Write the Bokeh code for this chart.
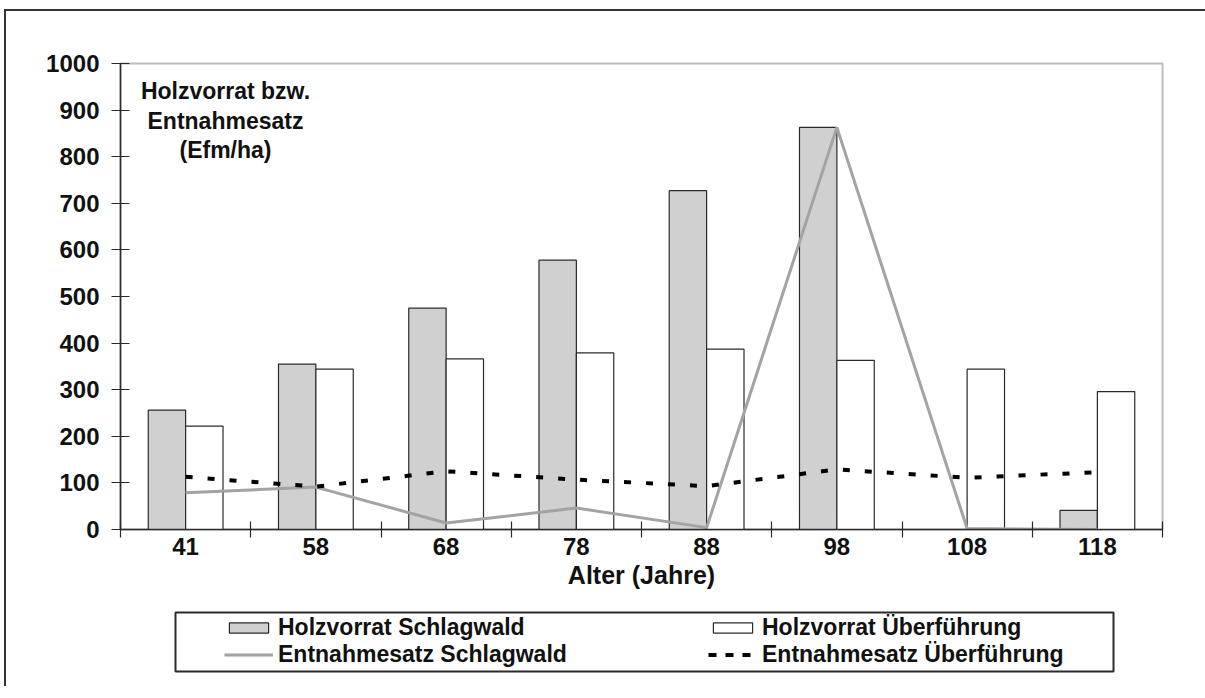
from bokeh.plotting import figure
from bokeh.models import (Range1d, FixedTicker, SingleIntervalTicker, ColumnDataSource,
                          Label, Legend, LegendItem, BoxAnnotation)
from bokeh.transform import dodge
from bokeh.layouts import column
from bokeh.embed import file_html
from bokeh.resources import INLINE

# ---- data ----
ages = ["41", "58", "68", "78", "88", "98", "108", "118"]
vorrat_schlagwald = [256, 355, 475, 578, 727, 863, 0, 41]
vorrat_ueberfuehrung = [222, 344, 366, 379, 387, 363, 344, 296]
entnahme_schlagwald = [79, 91, 14, 46, 4, 863, 2, 0]
entnahme_ueberfuehrung = [113, 92, 125, 107, 93, 129, 111, 123]

annotation_lines = ["Holzvorrat bzw.", "Entnahmesatz", "(Efm/ha)"]
x_title = "Alter (Jahre)"
legend_labels = ["Holzvorrat Schlagwald", "Holzvorrat Überführung",
                 "Entnahmesatz Schlagwald", "Entnahmesatz Überführung"]

# ---- styling ----
FONT = "Liberation Sans"
GRAY_FILL = "#d0d0d0"
EDGE = "#2a2a2a"
LINE_GRAY = "#a3a3a3"
TXT = "#111111"
W = 1200
BL, BR = 114, 44
BW = 0.287

xs = [i + 0.5 for i in range(len(ages))]
src = ColumnDataSource(dict(x=xs, vs=vorrat_schlagwald, vu=vorrat_ueberfuehrung,
                            es=entnahme_schlagwald, eu=entnahme_ueberfuehrung))


def add_series(fig, dash="7 15"):
    a = fig.vbar(x=dodge('x', -BW / 2, range=fig.x_range), top='vs', width=BW, source=src,
                 fill_color=GRAY_FILL, line_color=EDGE, line_width=1.2)
    b = fig.vbar(x=dodge('x', BW / 2, range=fig.x_range), top='vu', width=BW, source=src,
                 fill_color="white", line_color=EDGE, line_width=1.2)
    c = fig.line('x', 'es', source=src, line_color=LINE_GRAY, line_width=3)
    d = fig.line('x', 'eu', source=src, line_color="black", line_width=4, line_dash=dash)
    return [a, b, c, d]


# ---- main chart ----
p = figure(width=W, height=594, x_range=Range1d(0, len(ages)), y_range=Range1d(0, 1000),
           output_backend="svg", toolbar_location=None,
           min_border_left=BL, min_border_right=BR, min_border_top=52, min_border_bottom=76)
p.xgrid.visible = False
p.ygrid.visible = False
p.outline_line_color = "#bdbdbd"
p.outline_line_width = 2
p.background_fill_color = "white"
p.border_fill_color = "white"
add_series(p)

xa = p.xaxis[0]
xa.ticker = FixedTicker(ticks=xs, minor_ticks=list(range(len(ages) + 1)))
xa.major_label_overrides = {x: a for x, a in zip(xs, ages)}
xa.major_tick_line_color = None
xa.major_tick_in = 0
xa.major_tick_out = 0
xa.minor_tick_in = 8
xa.minor_tick_out = 8
xa.minor_tick_line_color = EDGE
xa.minor_tick_line_width = 1.2
xa.axis_line_color = EDGE
xa.axis_line_width = 1.5
xa.major_label_standoff = 0
xa.axis_label = x_title
xa.axis_label_standoff = 3

ya = p.yaxis[0]
ya.ticker = SingleIntervalTicker(interval=100, num_minor_ticks=0)
ya.major_tick_in = 9
ya.major_tick_out = 9
ya.major_tick_line_color = EDGE
ya.major_tick_line_width = 1.2
ya.minor_tick_line_color = None
ya.axis_line_color = EDGE
ya.axis_line_width = 1.5
ya.major_label_standoff = 12

for ax in (xa, ya):
    ax.major_label_text_font = FONT
    ax.major_label_text_font_style = "bold"
    ax.major_label_text_font_size = "24px"
    ax.major_label_text_color = TXT
    ax.axis_label_text_font = FONT
    ax.axis_label_text_font_style = "bold"
    ax.axis_label_text_font_size = "25px"
    ax.axis_label_text_color = TXT

for txt, yv in zip(annotation_lines, [940, 876, 814]):
    p.add_layout(Label(x=0.806, y=yv, text=txt, text_align="center", text_baseline="middle",
                       text_font=FONT, text_font_style="bold", text_font_size="23px",
                       text_color=TXT))

# ---- legend strip: same series (hidden here, only shown as legend samples) ----
p2 = figure(width=W, height=81, x_range=Range1d(0, len(ages)), y_range=Range1d(0, 81),
            x_axis_type=None, y_axis_type=None, output_backend="svg", toolbar_location=None,
            min_border_left=BL, min_border_right=BR, min_border_top=0, min_border_bottom=0)
p2.xgrid.visible = False
p2.ygrid.visible = False
p2.outline_line_color = None
p2.background_fill_color = "white"
p2.border_fill_color = "white"
lr = add_series(p2, dash="8 9")
for r in lr:
    r.visible = False

p2.add_layout(BoxAnnotation(left=55, right=993, left_units="screen", right_units="screen",
                            top=74, bottom=15, fill_alpha=0,
                            line_color=EDGE, line_alpha=1, line_width=2))

legend = Legend(items=[LegendItem(label=l, renderers=[r]) for l, r in zip(legend_labels, lr)],
                location=(104, 18), orientation="horizontal", ncols=2,
                glyph_width=49, glyph_height=13, label_standoff=5, label_width=430,
                label_height=22, spacing=-4, padding=0, margin=0,
                border_line_color=None, background_fill_alpha=0,
                inactive_fill_alpha=0,
                label_text_font=FONT, label_text_font_style="bold",
                label_text_font_size="23px", label_text_color=TXT)
p2.add_layout(legend, "center")

layout = column(p, p2, spacing=0,
                styles={"margin-left": "4px", "margin-top": "9px",
                        "border-left": "2px solid #333", "border-top": "2px solid #333"})

open("out.html", "w").write(file_html(layout, INLINE))
